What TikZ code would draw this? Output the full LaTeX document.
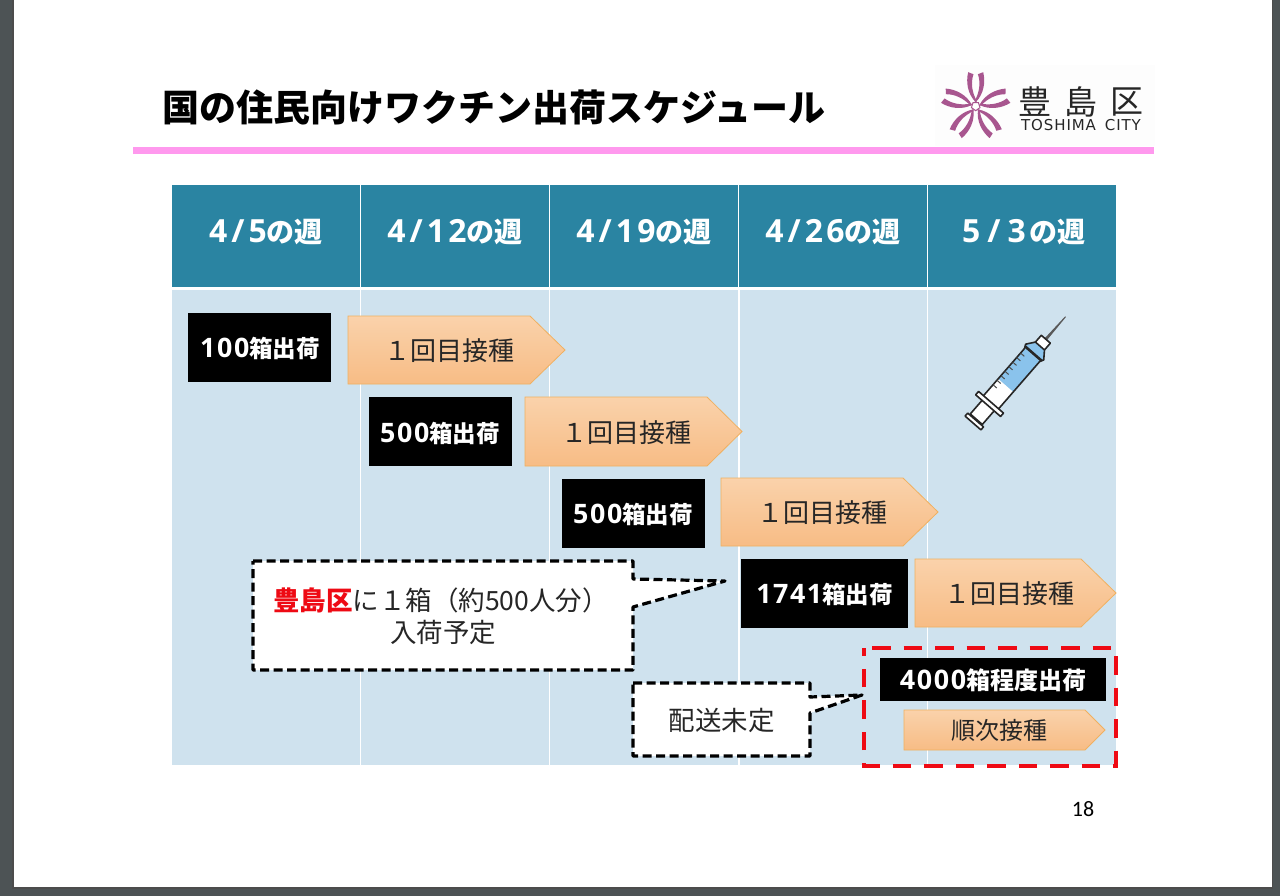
\documentclass[tikz,border=0pt]{standalone}
\usepackage{fontspec}
\setmainfont{Noto Sans CJK JP}
\newfontfamily\pagefont{Carlito}
\newfontfamily\logofont[LetterSpace=6]{DejaVu Sans}
\newfontfamily\latH[LetterSpace=10,Scale=1.14]{Open Sans}
\newfontfamily\latB[LetterSpace=6,Scale=1.14]{Open Sans}
\newfontfamily\latC[LetterSpace=6,Scale=1.12]{Open Sans}
\newcommand{\fsz}[1]{\fontsize{#1}{#1}\selectfont}
\newcommand{\wk}[2]{{\latH #1\hspace{4pt}/\hspace{4pt}#2}}
\newcommand{\dg}[1]{{\latB #1}}
\definecolor{frameC}{HTML}{4D5355}
\definecolor{headC}{HTML}{2A84A2}
\definecolor{bodyC}{HTML}{CFE2EE}
\definecolor{pinkC}{HTML}{FF99EE}
\definecolor{logoC}{HTML}{A8568F}
\definecolor{arrowTop}{HTML}{FAD2AB}
\definecolor{arrowBot}{HTML}{F7BC85}
\definecolor{arrowLine}{HTML}{F0B060}
\definecolor{syrBlue}{HTML}{8AC3EC}
\definecolor{redC}{HTML}{EE0A14}
\tikzset{
  txt/.style={inner sep=0pt,outer sep=0pt,anchor=center},
  headtxt/.style={txt,text=white,font=\fsz{28}\bfseries},
  blackbox/.style={fill=black,draw=none},
  boxtxt/.style={txt,text=white,font=\fsz{23.5}\bfseries},
  arrowshape/.style={top color=arrowTop,bottom color=arrowBot,draw=arrowLine,line width=0.8pt},
  arrowtxt/.style={txt,text=black!85,font=\fsz{26}},
  callout/.style={fill=white,draw=black,line width=3.2pt,dash pattern=on 9pt off 4.5pt,line join=round},
  calltxt/.style={txt,text=black!85,font=\fsz{26.5}},
  syr/.style={draw=black!85,line width=1.6pt,line join=round},
}
\begin{document}
\begin{tikzpicture}[x=1pt,y=-1pt]
\useasboundingbox (0,0) rectangle (1280,896);
% page
\fill[frameC] (0,0) rectangle (1280,896);
\fill[black!70] (12,0) rectangle (1273,888.5);
\fill[white] (14,0) rectangle (1272,887);
% title
\node[txt,text=black,font=\fsz{37}\bfseries] (title) at (494,107) {国の住民向けワクチン出荷スケジュール};
\fill[pinkC] (133,147) rectangle (1154,154);
% logo
\fill[black!0.7] (935,65) rectangle (1155,146);
\begin{scope}[shift={(975.7,106.2)}]
  \foreach \a in {0,72,144,216,288}{
    \begin{scope}[rotate=\a]
      \fill[logoC] (0,-4) .. controls (-8,-12) and (-10,-24) .. (-7.5,-34) -- (-2.2,-32)
         .. controls (-5,-24) and (-4,-14) .. (1.2,-5) -- cycle;
      \fill[logoC] (0,-4) .. controls (8,-12) and (10,-24) .. (7.5,-34) -- (2.2,-32)
         .. controls (5,-24) and (4,-14) .. (-1.2,-5) -- cycle;
    \end{scope}
  }
  \draw[logoC,fill=white,line width=1pt] (90:4.5) -- (162:4.5) -- (234:4.5) -- (306:4.5) -- (18:4.5) -- cycle;
\end{scope}
\node[txt,text=black!85,font=\fsz{33}] (lgA) at (1035,102) {豊};
\node[txt,text=black!85,font=\fsz{33}] (lgB) at (1081,102) {島};
\node[txt,text=black!85,font=\fsz{33}] (lgC) at (1127,102) {区};
\node[txt,text=black!85,font=\logofont\fsz{15}] (lgD) at (1081,125.5) {TOSHIMA\hspace{9pt}CITY};
% table
\fill[bodyC] (172,290) rectangle (1116,765);
\foreach \x in {360.5,549.5,739,927.5}{\draw[white,line width=1.3pt] (\x,290) -- (\x,765);}
\fill[headC] (172,185) rectangle (360,287);
\fill[headC] (361,185) rectangle (549,287);
\fill[headC] (550,185) rectangle (738,287);
\fill[headC] (739,185) rectangle (927,287);
\fill[headC] (928,185) rectangle (1116,287);
\node[headtxt] (h1) at (266,232.5) {\wk{4}{5}の週};
\node[headtxt] (h2) at (455,232.5) {\wk{4}{12}の週};
\node[headtxt] (h3) at (644,232.5) {\wk{4}{19}の週};
\node[headtxt] (h4) at (833,232.5) {\wk{4}{26}の週};
\node[headtxt] (h5) at (1024,232.5) {\wk{5\hspace{3pt}}{\hspace{3pt}3}\hspace{4pt}の週};
% syringe
\begin{scope}[shift={(973,423)},rotate=49]
  \fill[gray!70!black] (110,-1.5) -- (141,-0.4) -- (141,0.6) -- (110,1.5) -- cycle;
  \draw[syr,fill=white] (100,-6) -- (111,-6) -- (111,6) -- (100,6) -- cycle;
  \draw[syr,fill=white] (5,-8) rectangle (27,8);
  \draw[syr,fill=white] (0,-10.5) rectangle (4,10.5);
  \fill[white] (27.5,-10) rectangle (50,10);
  \fill[syrBlue] (50,-10) rectangle (90,10);
  \fill[syrBlue] (90,-10) -- (94,-12) -- (102,-6) -- (102,6) -- (94,12) -- (90,10) -- cycle;
  \draw[syr,fill=none] (27.5,-10) -- (90,-10) -- (94,-12) -- (102,-6) -- (102,6) -- (94,12) -- (90,10) -- (27.5,10);
  \draw[syr,fill=white] (23,-16.5) rectangle (27.5,16.5);
  \draw[black!85,line width=2.6pt] (92,-11) -- (92,11);
  \foreach \u in {42,48,54,60,66,72,78,84}{\draw[black!70,line width=1pt] (\u,-10) -- (\u,-5);}
\end{scope}
% row 1
\fill[blackbox] (188,313) rectangle (331,382);
\node[boxtxt] (b1) at (260,348) {\dg{100}箱出荷};
\draw[arrowshape] (348,316) -- (530,316) -- (565,350) -- (530,384) -- (348,384) -- cycle;
\node[arrowtxt] (a1) at (449.5,351) {１回目接種};
% row 2
\fill[blackbox] (369,397) rectangle (512,466);
\node[boxtxt] (b2) at (440,433) {\dg{500}箱出荷};
\draw[arrowshape] (525,397) -- (707,397) -- (742,431.5) -- (707,466) -- (525,466) -- cycle;
\node[arrowtxt] (a2) at (626.5,433) {１回目接種};
% row 3
\fill[blackbox] (562,479) rectangle (705,548);
\node[boxtxt] (b3) at (633,514) {\dg{500}箱出荷};
\draw[arrowshape] (721,478) -- (903,478) -- (938,512) -- (903,546) -- (721,546) -- cycle;
\node[arrowtxt] (a3) at (822.5,513) {１回目接種};
% row 4
\fill[blackbox] (741,559) rectangle (908,628);
\node[boxtxt] (b4) at (824.5,594) {\dg{1741}箱出荷};
\draw[arrowshape] (915,559) -- (1081,559) -- (1116,593) -- (1081,627) -- (915,627) -- cycle;
\node[arrowtxt] (a4) at (1009,594) {１回目接種};
% callouts
\draw[callout] (253,561) -- (633,561) -- (633,579) -- (725,581) -- (633,607) -- (633,670) -- (253,670) -- cycle;
\node[calltxt,anchor=west] (c1) at (273,600) {\textcolor{redC}{\bfseries 豊島区}に１箱（約500人分）};
\node[calltxt] (c2) at (443,632) {入荷予定};
\draw[callout] (633,683) -- (810,683) -- (810,697) -- (862,695) -- (810,713) -- (810,756) -- (633,756) -- cycle;
\node[calltxt] (c3) at (721.5,720) {配送未定};
% last row
\fill[blackbox] (880,658) rectangle (1106,701);
\node[boxtxt,font=\fsz{24}\bfseries] (b5) at (993,680) {{\latC 4000}箱程度出荷};
\draw[arrowshape] (904,710) -- (1085,710) -- (1105,730) -- (1085,750) -- (904,750) -- cycle;
\node[arrowtxt,font=\fsz{24}] (a5) at (999.5,730) {順次接種};
\draw[redC,line width=4.5pt,dash pattern=on 18.5pt off 13pt,dash phase=23.5pt] (864,648) -- (1116,648) -- (1116,766) -- (864,766) -- cycle;
% page number
\node[txt,text=black,font=\pagefont\fsz{22}] (pg) at (1083,809) {18};
\end{tikzpicture}
\end{document}
